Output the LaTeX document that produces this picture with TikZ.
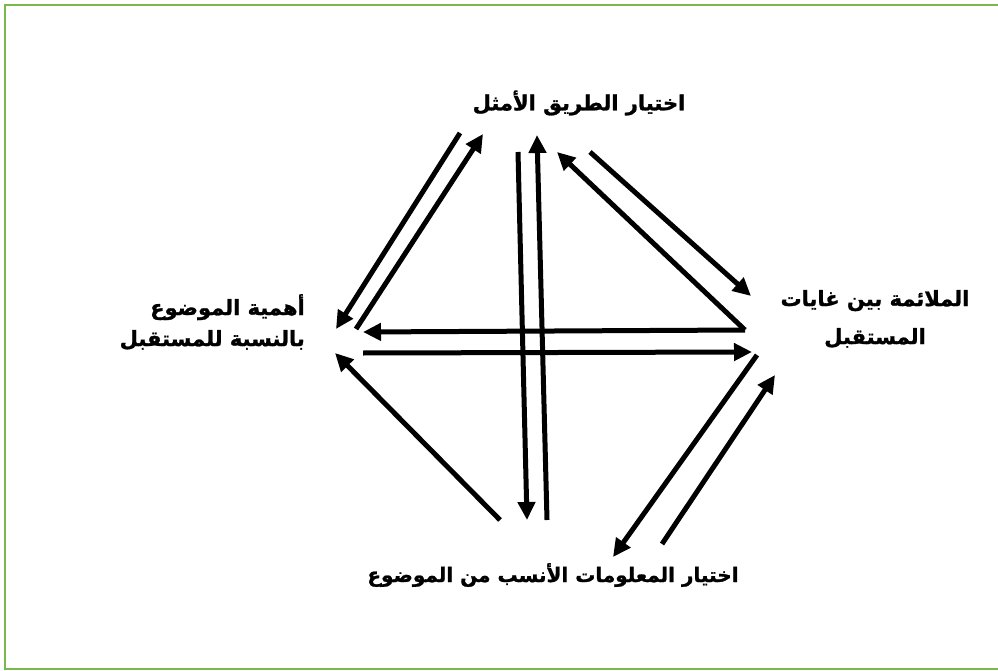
\documentclass[tikz,border=0pt]{standalone}
\usepackage{fontspec}
\usetikzlibrary{arrows.meta}
\newfontfamily\arabicfont[Script=Arabic,BoldFeatures={FakeBold=1.2}]{DejaVu Sans}
\TeXXeTstate=1
\definecolor{framegreen}{RGB}{122,184,75}
\tikzset{
  flow/.style={line width=5pt, -{Triangle[length=18pt,width=17pt]}},
  lbl/.style={font=\arabicfont\bfseries\fontsize{21}{38}\selectfont, inner sep=0pt, align=center},
  lblsmall/.style={font=\arabicfont\bfseries\fontsize{20}{20}\selectfont, inner sep=0pt}
}
\begin{document}
\begin{tikzpicture}[x=1pt,y=-1pt]
\useasboundingbox (0,0) rectangle (998,671);
\draw[framegreen, line width=2.6pt] (5,5) rectangle (1001,669);

\node[lbl] (top) at (579,103) {\beginR اختيار الطريق الأمثل\endR};
\node[lbl, align=right, anchor=east, font=\arabicfont\bfseries\fontsize{21}{31}\selectfont] (left) at (305,322) {\beginR أهمية الموضوع\endR\\\beginR بالنسبة للمستقبل\endR};
\node[lbl] (right) at (875,319) {\beginR الملائمة بين غايات\endR\\\beginR المستقبل\endR};
\node[lblsmall] (bottom) at (553,575) {\beginR اختيار المعلومات الأنسب من الموضوع\endR};

% endpoints
\coordinate (tl1s) at (460,133); \coordinate (tl1e) at (336,329);
\coordinate (tl2s) at (356,329); \coordinate (tl2e) at (483,134);
\coordinate (v1s) at (518,152);  \coordinate (v1e) at (527,520);
\coordinate (v2s) at (547,520);  \coordinate (v2e) at (537,135);
\coordinate (tr1s) at (745,330); \coordinate (tr1e) at (557,152);
\coordinate (tr2s) at (590,152); \coordinate (tr2e) at (751,296);
\coordinate (h1s) at (745,330);  \coordinate (h1e) at (363,332);
\coordinate (h2s) at (363,353);  \coordinate (h2e) at (752,352);
\coordinate (br1s) at (757,355); \coordinate (br1e) at (613,557);
\coordinate (br2s) at (662,544); \coordinate (br2e) at (775,375);
\coordinate (bls) at (500,520);  \coordinate (ble) at (335,353);

\draw[flow] (tl1s) -- (tl1e);
\draw[flow] (tl2s) -- (tl2e);
\draw[flow] (v1s) -- (v1e);
\draw[flow] (v2s) -- (v2e);
\draw[flow] (tr1s) -- (tr1e);
\draw[flow] (tr2s) -- (tr2e);
\draw[flow] (h1s) -- (h1e);
\draw[flow] (h2s) -- (h2e);
\draw[flow] (br1s) -- (br1e);
\draw[flow] (br2s) -- (br2e);
\draw[flow] (bls) -- (ble);
\end{tikzpicture}
\end{document}
